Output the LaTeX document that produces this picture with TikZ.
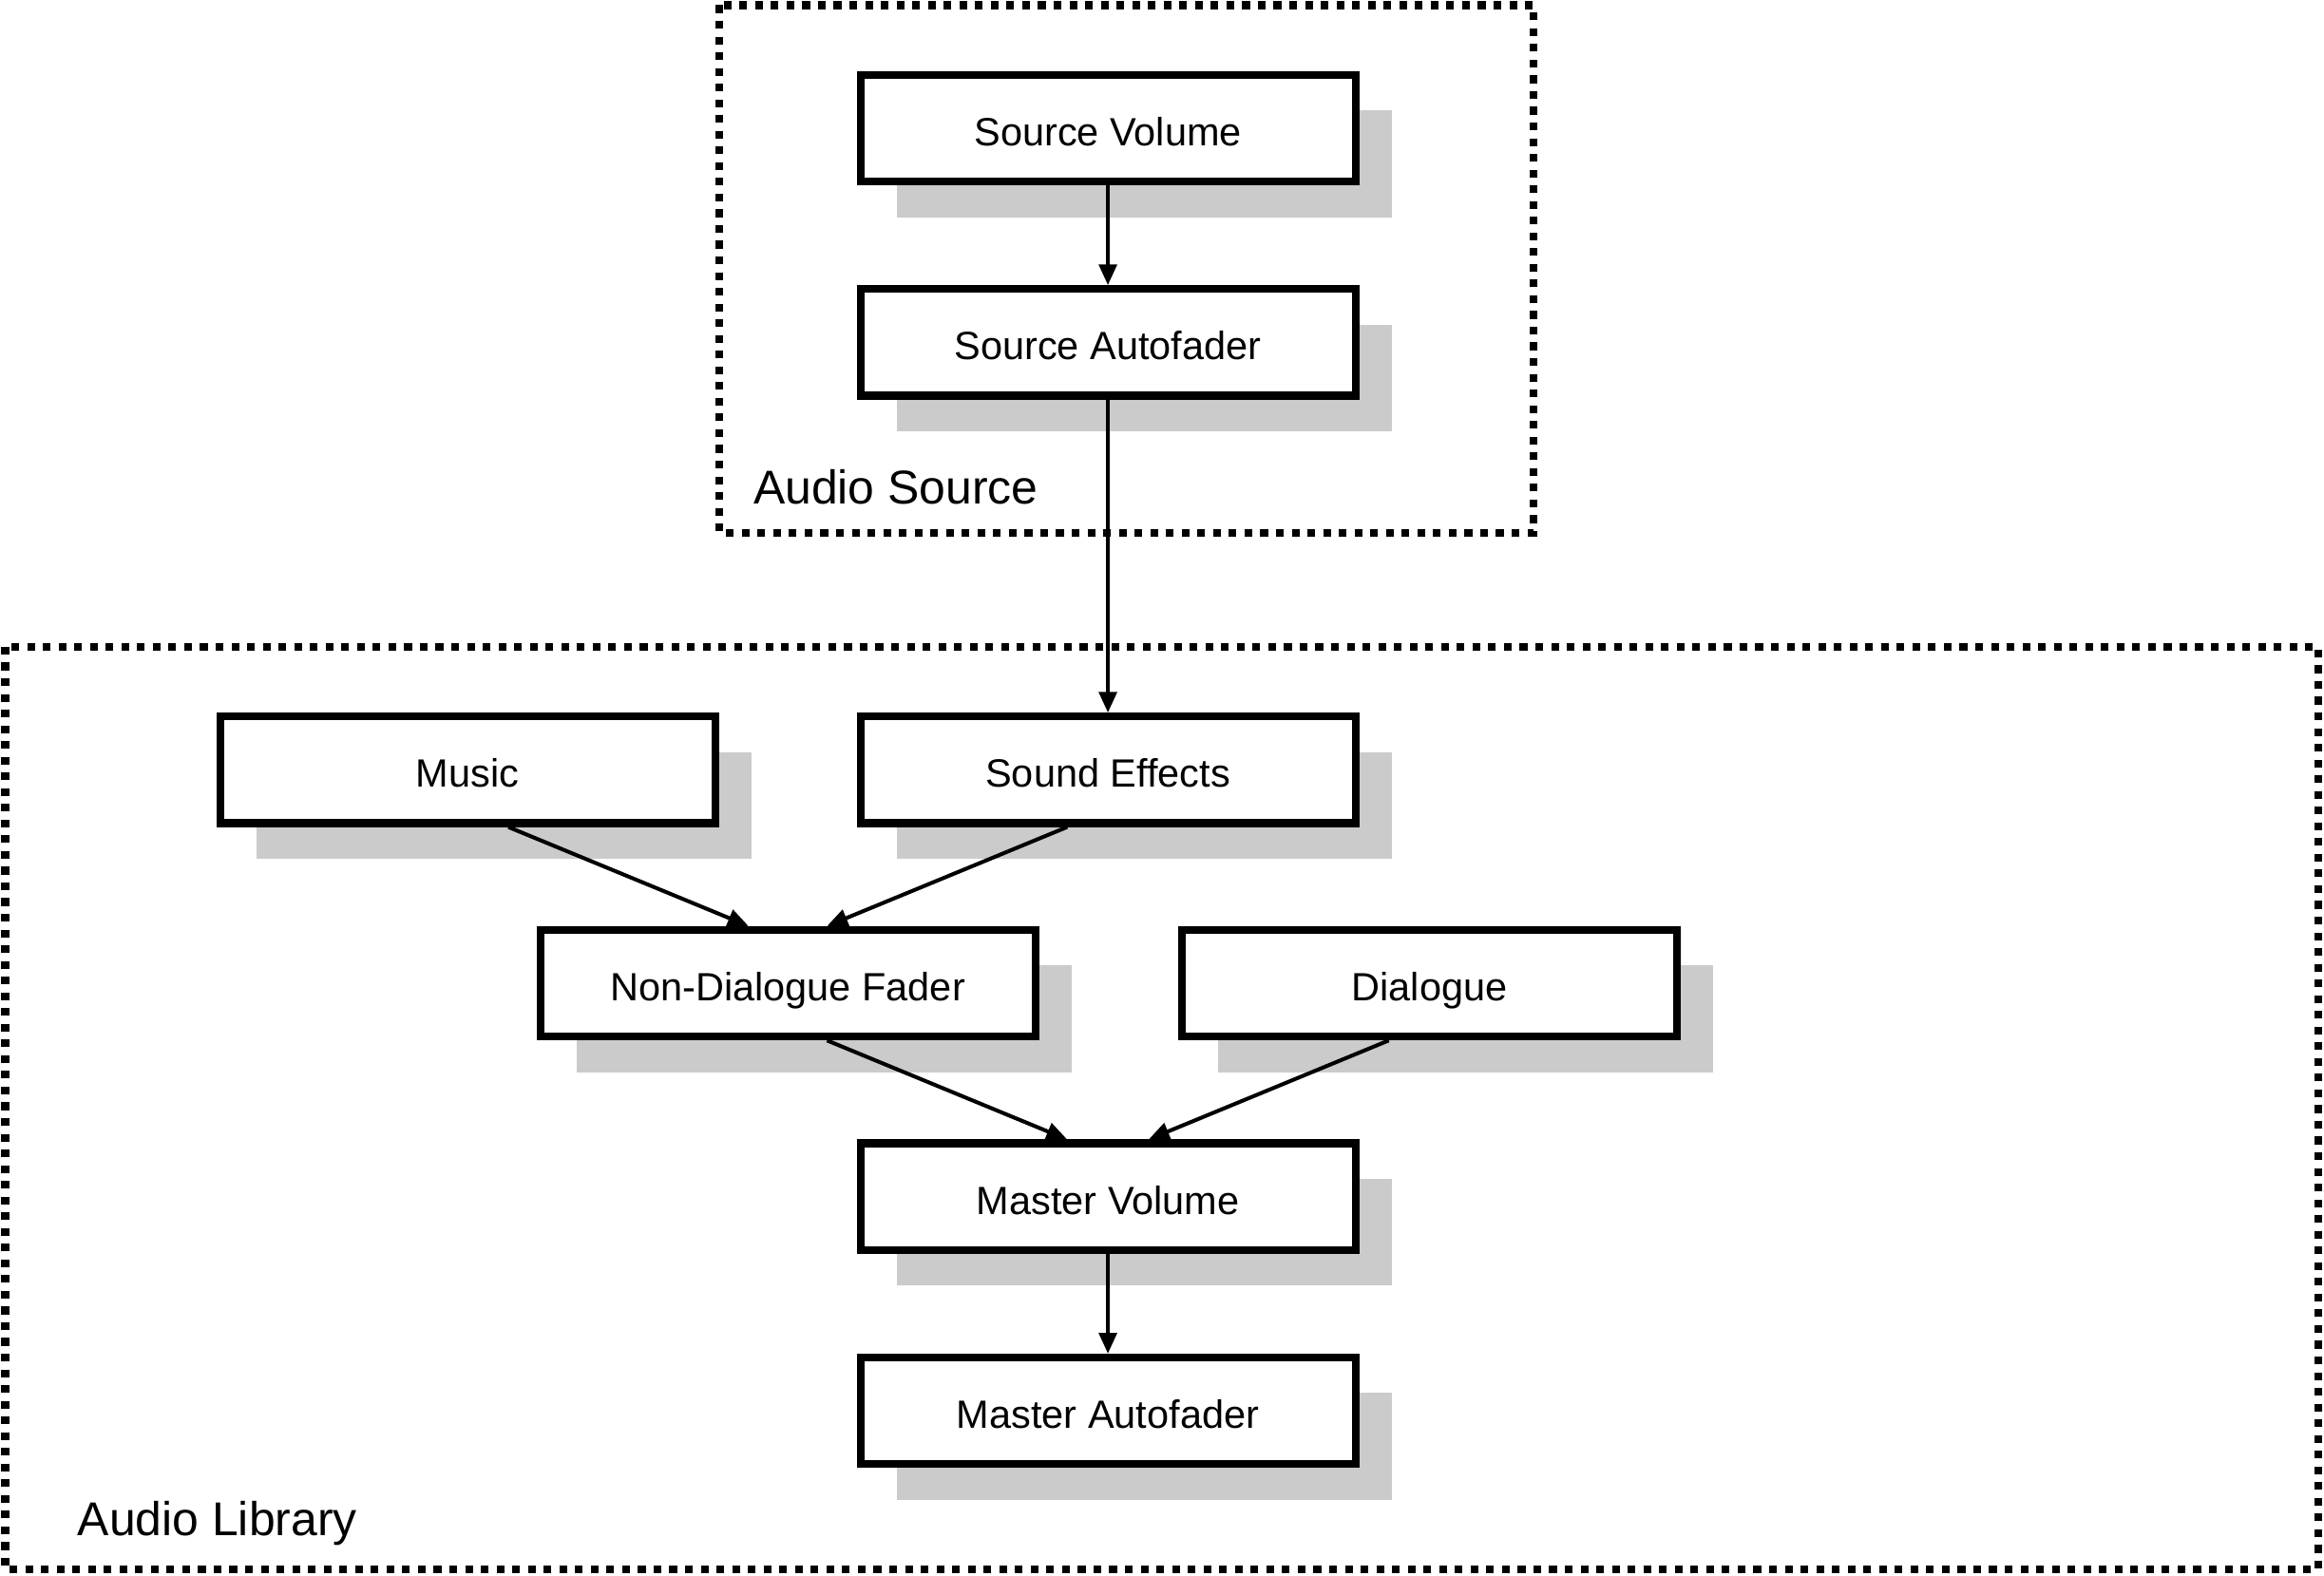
\documentclass[tikz,border=0pt]{standalone}
\usepackage{fontspec}
\setmainfont{Liberation Sans}
\usetikzlibrary{arrows.meta,shadows,calc}
\definecolor{shadowgray}{HTML}{CBCBCB}
\begin{document}
\begin{tikzpicture}[x=0.5pt,y=-0.5pt,
  block/.style={draw, line width=2.6pt, fill=white, minimum width=167pt, minimum height=36pt,
    inner sep=0pt, text height=11.9pt, text depth=0pt, font=\fontsize{13.3}{15}\selectfont,
    drop shadow={shadow xshift=12.25pt, shadow yshift=-12pt, fill=shadowgray, opacity=1}},
  conn/.style={line width=1.3pt, -{Triangle[length=7pt,width=6pt]}},
  group/.style={line width=2.6pt, dash pattern=on 2.6pt off 2.7pt},
  grouplabel/.style={anchor=base west, inner sep=0pt, font=\fontsize{16}{19}\selectfont}]
\useasboundingbox (0,0) rectangle (1568,1063);
% groups
\draw[group] (485.5,3.5) rectangle (1034.5,359.5);
\draw[group] (3.5,436.5) rectangle (1564,1059);
\node[grouplabel] (lsrc) at (508,340) {Audio Source};
\node[grouplabel] (llib) at (52,1036) {Audio Library};
% blocks
\node[block] (sv) at (747.5,86.5) {Source Volume};
\node[block] (sa) at (747.5,231) {Source Autofader};
\node[block] (mu) at (315.5,519.5) {Music};
\node[block] (se) at (747.5,519.5) {Sound Effects};
\node[block] (nd) at (531.5,663.5) {Non-Dialogue Fader};
\node[block] (di) at (964.5,663.5) {Dialogue};
\node[block] (mv) at (747.5,807.5) {Master Volume};
\node[block] (ma) at (747.5,952) {Master Autofader};
% connectors
\draw[conn] (sv.south) -- (sa.north);
\draw[conn] (sa.south) -- (se.north);
\draw[conn] ($(mu.south)+(27.5,0)$) -- ($(nd.north)+(-26.5,0)$);
\draw[conn] ($(se.south)+(-27.5,0)$) -- ($(nd.north)+(26.5,0)$);
\draw[conn] ($(nd.south)+(26.5,0)$) -- ($(mv.north)+(-27.5,0)$);
\draw[conn] ($(di.south)+(-27.5,0)$) -- ($(mv.north)+(27.5,0)$);
\draw[conn] (mv.south) -- (ma.north);
\end{tikzpicture}
\end{document}
